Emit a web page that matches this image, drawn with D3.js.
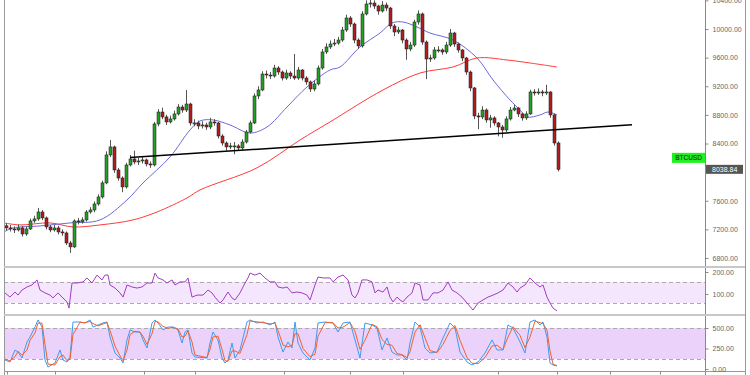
<!DOCTYPE html>
<html><head><meta charset="utf-8">
<script src="https://cdn.jsdelivr.net/npm/d3@7"></script>
<style>body{margin:0;background:#fff}svg{display:block}</style>
</head><body>
<svg id="c" width="750" height="375"></svg>
<script>
// ---- DATA ----
const firstOpen = 7250;
const closes = [
7220,7206,7192,7220,7136,7206,7318,7346,7443,7360,
7234,7192,7220,7164,7150,7010,6955,7318,7304,7332,
7443,7471,7555,7653,7849,8240,8352,8030,7918,7793,
8100,8184,8142,8156,8170,8114,8100,8673,8840,8771,
8701,8743,8813,8910,8868,8952,8687,8687,8645,8659,
8631,8701,8687,8505,8407,8352,8366,8366,8338,8421,
8561,8687,9064,9148,9371,9357,9343,9455,9399,9315,
9385,9343,9315,9427,9315,9260,9162,9232,9455,9679,
9749,9790,9804,9846,9986,10154,10070,9846,9763,10210,
10349,10363,10321,10251,10335,10293,10042,9958,9986,9846,
9721,9776,10098,10210,9818,9581,9595,9707,9707,9679,
9776,9944,9790,9707,9595,9399,9176,8785,8771,8868,
8729,8757,8687,8631,8589,8743,8868,8896,8813,8757,
8813,9120,9106,9120,9106,9120,8799,8407,8038.84];
const highs = [
7290,7260,7240,7270,7250,7240,7350,7390,7500,7470,
7380,7260,7260,7250,7200,7170,7040,7340,7360,7370,
7470,7510,7590,7690,7880,8290,8450,8370,8060,7940,
8130,8240,8300,8200,8210,8190,8150,8700,8880,8900,
8800,8790,8860,8950,8940,9148,8970,8740,8720,8710,
8690,8760,8740,8700,8530,8430,8410,8420,8390,8460,
8590,8720,9100,9200,9410,9420,9400,9500,9480,9420,
9430,9410,9650,9470,9440,9340,9280,9280,9490,9720,
9800,9840,9860,9890,10030,10200,10180,10090,9870,10250,
10400,10420,10400,10340,10390,10370,10310,10070,10030,10000,
9870,9820,10130,10260,10230,9840,9640,9750,9760,9730,
9820,10000,9960,9810,9720,9610,9420,9190,8830,8920,
8890,8800,8780,8700,8660,8780,8910,8940,8910,8830,
8850,9150,9160,9170,9150,9220,9130,8820,8430];
const lows = [
7180,7170,7150,7170,7100,7110,7190,7290,7320,7330,
7200,7160,7170,7130,7110,6980,6871,6940,7270,7280,
7310,7420,7440,7530,7630,7830,8210,7990,7880,7720,
7770,8080,8110,8100,8120,8080,8060,8080,8640,8740,
8660,8680,8720,8790,8830,8840,8650,8640,8600,8610,
8590,8600,8650,8470,8370,8300,8320,8250,8300,8310,
8400,8540,8670,9020,9130,9310,9300,9320,9360,9280,
9290,9300,9290,9290,9280,9220,9120,9130,9210,9430,
9650,9720,9760,9780,9820,9960,10030,9800,9720,9740,
10190,10300,10280,10200,10230,10250,10000,9900,9930,9800,
9570,9690,9750,10060,9780,9300,9540,9570,9670,9640,
9650,9750,9750,9670,9550,9360,9130,8740,8600,8740,
8690,8620,8650,8500,8480,8560,8720,8850,8770,8720,
8730,8800,9070,9080,9060,9080,8760,8370,8010];

const blueT = [-0.5,1.75,8.5,16,23.5,30.25,34.25,41,46,48.5,51.75,56,61,65.25,70.25,75.25,81,83.5,88.5,93.5,96.5,99.25,102.75,106,111.75,117.75,121.75,126,128.5,130.25,133.5,135.5,137.75];
const blueV = [7164,7220,7248,7290,7332,7611,7849,8212,8589,8715,8729,8659,8547,8631,8910,9190,9427,9469,9749,9944,10084,10098,10028,9944,9846,9595,9288,9008,8868,8771,8799,8840,8799];
const redT = [-0.5,3.5,11,16.75,23.5,31.75,37.75,45.25,48.5,62.75,73.5,81,94.25,103.5,111.75,117.75,125.25,131,137.75];
const redV = [7290,7262,7290,7234,7262,7332,7443,7639,7751,8060,8449,8701,9148,9385,9469,9595,9567,9525,9469];

const trendT = [31,156.5];
const trendV = [8203,8663];

const rsiT = [-0.25,1,2.25,3,4,5.25,6.5,7.75,8.5,9.75,11,11.75,13,14,15.25,15.75,16.5,17.75,19.25,20.25,21.5,22.75,24,24.75,25.5,26,27.25,28.5,29.25,30.25,31.5,32.75,34,35.25,36.5,37.25,38,39.25,40.25,41.5,42.25,43.5,44.75,45.5,46.5,47.75,49.25,50.5,51.5,52.25,53.5,54.25,55.5,56.5,57.25,58.5,59.75,60.5,61,62.25,63.5,64.75,66,67.25,68,69.25,70.25,71.5,72.75,74,75.25,76,77.25,78,79.25,81,81.75,83,84.25,85.5,86.5,87.25,88,89,90.25,91.5,92.25,93,94.25,95.25,96,96.75,97.75,98.5,99.25,100.25,101.5,102.25,103.5,104.25,105.5,106.75,108,109.25,110.5,111.5,112.75,114,115.25,116.75,118,119.25,120.5,121.75,123,124.25,125.5,126.75,127.75,128.5,129.75,131,132.25,133.5,134.25,135.25,136,136.75,137.75];
const rsiV = [105,86,109,95,118,132,141,164,118,105,95,82,105,86,64,36,150,150,155,173,150,186,164,186,186,141,127,105,86,141,132,127,132,150,150,195,173,164,150,164,141,155,155,173,86,95,95,118,105,86,59,73,109,82,73,105,150,173,195,186,195,173,155,155,132,127,132,105,109,105,95,73,141,177,173,173,155,177,186,164,95,82,105,164,164,155,105,118,109,132,86,64,86,73,64,86,105,150,141,73,73,105,105,118,155,118,105,86,59,27,59,73,86,95,105,118,150,132,109,127,141,173,150,132,141,86,59,36,23];

const stochT = [-0.25,1,2.25,3,4,5.25,6,7.25,8,9,9.75,10.5,12.25,13.5,14.25,15.25,16,16.75,18.5,19.75,21,21.75,23,24.25,25.25,26,27.25,28.5,29.25,30.25,31,32.25,33.5,34.25,35.25,36.5,37.25,38,39.25,40.5,41.75,43,44,44.75,45.5,46.5,47.25,50.25,51,51.75,53,54,54.75,55.5,56.5,57.25,58.5,60.25,61,62.75,64.25,66,67.25,68,69.25,70.5,71.5,72.25,73,74.25,76,77.25,78,79.75,81.75,83,84.25,86,87.25,88.5,89.75,91.5,92.75,94,95.25,96.5,97.75,99,100.25,101,102.25,103.5,104.75,106,107.75,109.25,111,112.25,113.5,115.25,116.5,118,119.75,121.5,122.75,124.25,125.5,126.75,128.5,129.75,131,132.25,133.5,134.25,135.25,136,136.75,137.75];
const stochK = [110,85,232,207,134,329,390,512,598,512,110,24,73,232,110,85,146,573,573,561,598,512,537,561,573,390,195,134,73,354,476,451,451,354,256,561,598,561,476,512,512,476,317,451,476,195,146,134,317,451,354,134,73,110,317,134,232,573,598,561,573,537,573,390,207,329,256,573,317,195,110,256,561,573,561,451,561,573,354,134,561,537,500,232,378,207,171,171,110,317,573,512,256,195,207,378,561,500,207,85,49,85,195,354,232,232,537,500,329,195,573,598,537,573,390,73,49,37];
const stochD = [120,100,150,215,170,230,350,440,560,560,300,60,50,150,170,100,120,420,570,565,580,555,525,550,565,470,280,160,100,230,420,460,450,400,300,430,580,575,520,495,510,490,390,400,465,330,170,140,240,390,400,240,100,95,220,220,190,420,585,575,565,550,560,470,290,270,290,430,430,250,150,180,400,565,565,500,510,565,460,240,350,545,515,360,300,290,190,175,140,210,450,540,380,225,200,300,470,530,350,140,70,65,140,280,290,235,390,515,410,260,390,585,565,555,470,220,60,40];

const priceTicks = [6800,7200,7600,8400,8800,9200,9600,10000,10400];
const rsiTicks = [100,200];
const stochTicks = [0,250,500];
const rsiBand = [59,155];
const stochBand = [122,500];
const timeTicks = [0.25,12.25,34.5,47.25,69.5,86,99.25,123,137.75,151,163.5];
const symbol = "BTCUSD";

// ---- LAYOUT ----
const svg = d3.select("#c");
const L = 4, R = 705, RB = 745;
const x = d3.scaleLinear().domain([-0.5,174.75]).range([L,R]);
const y = d3.scaleLinear().domain([6800,10000]).range([258,29]);
const yR = d3.scaleLinear().domain([100,200]).range([294,272]);
const yS = d3.scaleLinear().domain([0,500]).range([369,328]);
const FONT = "Liberation Sans, Arial, sans-serif";

const defs = svg.append("defs");
function clip(id,y0,h){defs.append("clipPath").attr("id",id).append("rect").attr("x",L).attr("y",y0).attr("width",R-L).attr("height",h);}
clip("cm",0,266); clip("cr",268,46); clip("cs",316,55);

// bands
function band(sc,b,fill){
  svg.append("rect").attr("x",L).attr("width",R-L)
    .attr("y",sc(b[1])).attr("height",sc(b[0])-sc(b[1])).attr("fill",fill);
  b.forEach(v=>svg.append("line").attr("x1",L).attr("x2",R).attr("y1",Math.round(sc(v))+0.5).attr("y2",Math.round(sc(v))+0.5)
    .attr("stroke","#aaa").attr("stroke-dasharray","4,3"));
}
band(yR,rsiBand,"#f4e6fc");
band(yS,stochBand,"#ead2fb");

// main panel
const gm = svg.append("g").attr("clip-path","url(#cm)");
const line = (xs,ys,sc,cv)=>d3.line().x(d=>x(xs[d])).y(d=>sc(ys[d])).curve(cv||d3.curveLinear)(d3.range(xs.length));

gm.append("path").attr("d",line(redT,redV,y,d3.curveCatmullRom)).attr("fill","none").attr("stroke","#ff3b3b").attr("stroke-width",1);
gm.append("path").attr("d",line(blueT,blueV,y,d3.curveCatmullRom)).attr("fill","none").attr("stroke","#6b6bdc").attr("stroke-width",1);

const candles = closes.map((c,i)=>({i,o:i?closes[i-1]:firstOpen,c,h:highs[i],l:lows[i]}));
const cg = gm.append("g");
cg.selectAll("line.w").data(candles).enter().append("line")
  .attr("x1",d=>Math.round(x(d.i))+0.5).attr("x2",d=>Math.round(x(d.i))+0.5)
  .attr("y1",d=>y(d.h)).attr("y2",d=>y(d.l)).attr("stroke","#555").attr("stroke-width",1);
cg.selectAll("rect.b").data(candles).enter().append("rect")
  .attr("x",d=>Math.round(x(d.i))-1).attr("width",3)
  .attr("y",d=>y(Math.max(d.o,d.c)))
  .attr("height",d=>Math.max(1,Math.abs(y(d.o)-y(d.c))))
  .attr("fill",d=>d.c>=d.o?"#22a022":"#b01e1e")
  .attr("stroke","#1a1a1a").attr("stroke-width",0.5);

gm.append("path").attr("d",line(trendT,trendV,y)).attr("stroke","#000").attr("stroke-width",1.5).attr("fill","none");

// RSI
svg.append("g").attr("clip-path","url(#cr)").append("path").attr("d",line(rsiT,rsiV,yR))
  .attr("fill","none").attr("stroke","#a53cc4").attr("stroke-width",1);
// Stoch
const gs = svg.append("g").attr("clip-path","url(#cs)");
gs.append("path").attr("d",line(stochT,stochK,yS)).attr("fill","none").attr("stroke","#3d9cf0").attr("stroke-width",1);
gs.append("path").attr("d",line(stochT,stochD,yS)).attr("fill","none").attr("stroke","#f0622e").attr("stroke-width",1);

// frame
const fr = (x1,y1,x2,y2,c,w)=>svg.append("line").attr("x1",x1).attr("y1",y1).attr("x2",x2).attr("y2",y2).attr("stroke",c).attr("stroke-width",w||1);
fr(L+0.5,0,L+0.5,375,"#999");
fr(R+0.5,0,R+0.5,375,"#888");
fr(RB+0.5,0,RB+0.5,375,"#999");
fr(L,267,RB,267,"#c8c8c8",2);
fr(L,315,RB,315,"#c8c8c8",2);
fr(L,371.5,RB,371.5,"#999");

// axes
function rAxis(sc,ticks){
  const g = svg.append("g").attr("transform",`translate(${R+0.5},0)`)
    .call(d3.axisRight(sc).tickValues(ticks).tickFormat(d3.format(".2f")).tickSize(3).tickPadding(4));
  g.select(".domain").remove();
  g.selectAll("line").attr("stroke","#888");
  g.selectAll("text").attr("fill","#666").attr("font-size","7px").attr("font-family",FONT);
}
rAxis(y,priceTicks); rAxis(yR,rsiTicks); rAxis(yS,stochTicks);

const bx = svg.append("g").attr("transform","translate(0,371.5)")
  .call(d3.axisBottom(x).tickValues(timeTicks).tickFormat("").tickSize(3));
bx.select(".domain").remove();
bx.selectAll("line").attr("stroke","#888");

// labels
const last = closes[closes.length-1];
const ly = y(last);
svg.append("rect").attr("x",R+1).attr("y",ly-4.5).attr("width",37).attr("height",9).attr("fill","#555");
svg.append("text").attr("x",R+7).attr("y",ly).attr("dy","0.35em").attr("fill","#fff").attr("font-size","7px").attr("font-family",FONT).text(d3.format(".2f")(last));
svg.append("rect").attr("x",672).attr("y",ly-16.5).attr("width",33).attr("height",10).attr("fill","#1ff01f");
svg.append("text").attr("x",688.5).attr("y",ly-11.5).attr("dy","0.35em").attr("text-anchor","middle").attr("fill","#111").attr("font-size","6.5px").attr("font-family",FONT).text(symbol);
</script>
</body></html>
